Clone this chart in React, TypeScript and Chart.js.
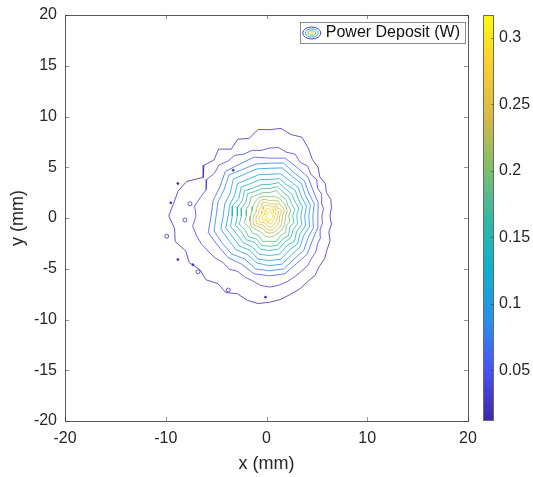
import { useEffect, useRef } from "react";
import { Chart, registerables } from "chart.js";

Chart.register(...registerables);

// ---- data ----
const X_TICKS = [-20, -10, 0, 10, 20];
const Y_TICKS = [-20, -15, -10, -5, 0, 5, 10, 15, 20];
const CB_TICKS = [0.05, 0.1, 0.15, 0.2, 0.25, 0.3];
const CB_MIN = 0.012;
const CB_MAX = 0.317;
const LEGEND_LABEL = "Power Deposit (W)";

// contour levels (W), outermost first
const LEVELS = [0.02, 0.039, 0.057, 0.076, 0.095, 0.113, 0.132, 0.151, 0.169, 0.188, 0.207, 0.225, 0.244, 0.263, 0.281, 0.3];

// contour centre (mm) and sampling angles (deg)
const CENTER_X = 0.3;
const CENTER_Y = 0.2;
const ANGLES_FINE = [0, 7.5, 15, 22.5, 30, 37.5, 45, 52.5, 60, 67.5, 75, 82.5, 90, 97.5, 105, 112.5, 120, 127.5, 135, 142.5, 150, 157.5, 165, 172.5, 180, 187.5, 195, 202.5, 210, 217.5, 225, 232.5, 240, 247.5, 255, 262.5, 270, 277.5, 285, 292.5, 300, 307.5, 315, 322.5, 330, 337.5, 345, 352.5];
const ANGLES_COARSE = [0, 15, 30, 45, 60, 75, 90, 105, 120, 135, 150, 165, 180, 195, 210, 225, 240, 255, 270, 285, 300, 315, 330, 345];

// radius (mm) of each contour at each angle
const C1 = [6.0, 6.2, 6.3, 6.1, 6.4, 6.3, 6.8, 7.0, 7.7, 8.4, 8.3, 8.7, 8.5, 8.6, 7.9, 8.2, 7.6, 8.3, 7.8, 8.2, 7.6, 8.9, 9.4, 9.6, 10.0, 9.5, 9.7, 9.0, 9.2, 8.7, 8.9, 8.4, 8.7, 8.3, 8.6, 8.7, 8.5, 8.3, 8.0, 7.8, 7.5, 7.4, 7.0, 6.9, 6.6, 6.5, 6.1, 6.2];
const C2 = [5.2, 5.4, 5.3, 5.6, 5.5, 5.9, 5.8, 6.2, 6.1, 6.6, 6.5, 6.8, 6.7, 6.5, 6.7, 6.6, 6.9, 6.8, 7.1, 6.9, 7.2, 6.8, 7.1, 7.5, 7.3, 7.7, 7.5, 7.3, 7.0, 6.8, 6.5, 6.6, 6.3, 6.5, 6.6, 6.9, 7.0, 6.9, 6.7, 6.5, 6.3, 6.2, 5.9, 5.8, 5.5, 5.5, 5.2, 5.3];
const C3 = [4.8, 5.0, 5.0, 5.4, 5.5, 5.9, 5.7, 6.0, 5.9, 6.2, 5.7, 5.8, 5.8, 6.3, 5.9, 5.8, 5.5, 5.9, 5.9, 5.9, 5.4, 5.3, 4.9, 4.9];
const C4 = [4.3, 4.6, 4.5, 4.9, 4.9, 5.4, 5.2, 5.3, 5.3, 5.7, 5.2, 5.3, 5.3, 5.7, 5.4, 5.3, 4.9, 5.4, 5.4, 5.4, 4.9, 4.8, 4.4, 4.5];
const C5 = [3.9, 4.2, 4.1, 4.5, 4.5, 4.9, 4.7, 4.8, 4.8, 5.1, 4.5, 4.6, 4.6, 5.0, 4.7, 4.7, 4.4, 4.8, 4.9, 4.9, 4.4, 4.3, 3.9, 4.1];
const C6 = [3.5, 3.8, 3.7, 4.0, 4.0, 4.3, 4.1, 4.2, 4.2, 4.5, 4.0, 4.1, 4.1, 4.5, 4.2, 4.2, 3.9, 4.4, 4.4, 4.4, 3.9, 3.9, 3.5, 3.7];
const C7 = [3.1, 3.4, 3.3, 3.6, 3.5, 3.8, 3.6, 3.7, 3.7, 4.0, 3.5, 3.8, 3.7, 4.0, 3.7, 3.7, 3.5, 3.9, 3.9, 3.9, 3.4, 3.5, 3.1, 3.3];
const C8 = [2.7, 3.0, 2.9, 3.1, 3.1, 3.4, 3.1, 3.2, 3.2, 3.5, 3.1, 3.3, 3.2, 3.5, 3.2, 3.3, 3.0, 3.4, 3.4, 3.4, 3.0, 3.0, 2.7, 2.9];
const C9 = [2.3, 2.6, 2.5, 2.7, 2.7, 3.0, 2.7, 2.8, 2.8, 3.1, 2.7, 2.9, 2.8, 3.1, 2.8, 2.9, 2.6, 3.0, 3.0, 3.0, 2.6, 2.7, 2.3, 2.5];
const C10 = [1.9, 2.2, 2.1, 2.3, 2.3, 2.6, 2.3, 2.4, 2.4, 2.6, 2.3, 2.4, 2.3, 2.6, 2.3, 2.4, 2.2, 2.6, 2.5, 2.6, 2.2, 2.3, 1.9, 2.1];
const C11 = [1.6, 1.8, 1.9, 1.9, 2.0, 2.0, 1.9, 2.0, 2.1, 2.0, 1.9, 1.8, 1.9, 2.0, 2.1, 1.9, 1.8, 2.0, 2.1, 2.0, 1.9, 1.8, 1.7, 1.6];
const C12 = [1.3, 1.5, 1.6, 1.5, 1.7, 1.6, 1.5, 1.7, 1.8, 1.6, 1.5, 1.4, 1.6, 1.7, 1.8, 1.5, 1.4, 1.6, 1.7, 1.7, 1.5, 1.5, 1.4, 1.3];
const C13 = [1.0, 1.2, 1.3, 1.1, 1.4, 1.2, 1.2, 1.4, 1.5, 1.2, 1.2, 1.1, 1.3, 1.4, 1.5, 1.2, 1.1, 1.3, 1.4, 1.4, 1.2, 1.2, 1.1, 1.0];
const C14 = [0.8, 0.9, 1.0, 0.8, 1.1, 0.9, 1.0, 1.1, 1.1, 0.9, 0.9, 0.8, 1.0, 1.1, 1.2, 0.9, 0.8, 1.0, 1.1, 1.1, 0.9, 0.9, 0.8, 0.8];
const C15 = [0.5, 0.6, 0.7, 0.5, 0.8, 0.6, 0.7, 0.8, 0.7, 0.6, 0.6, 0.5, 0.7, 0.8, 0.8, 0.6, 0.5, 0.7, 0.7, 0.8, 0.6, 0.6, 0.5, 0.5];
const C16 = [0.3, 0.35, 0.4, 0.3, 0.45, 0.35, 0.4, 0.45, 0.4, 0.35, 0.3, 0.3, 0.35, 0.4, 0.45, 0.35, 0.3, 0.35, 0.4, 0.45, 0.35, 0.3, 0.3, 0.3];
const CONTOUR_RADII = [C1, C2, C3, C4, C5, C6, C7, C8, C9, C10, C11, C12, C13, C14, C15, C16];

// small isolated loops and specks of the lowest level (mm)
const LOOP_X = [-8.1, -7.6, -9.9, -6.8, -3.8];
const LOOP_Y = [-0.2, 1.4, -1.8, -5.3, -7.1];
const DOT_X = [-8.8, -7.3, -8.8, -0.1, -3.3, -9.5];
const DOT_Y = [-4.1, -4.6, 3.4, -7.8, 4.7, 1.5];

// parula colormap stops [t, r, g, b]
const PARULA = [
  [0, 62, 38, 168],
  [0.125, 72, 82, 244],
  [0.25, 40, 145, 235],
  [0.375, 16, 175, 205],
  [0.5, 50, 186, 160],
  [0.625, 130, 190, 105],
  [0.75, 215, 186, 70],
  [0.875, 252, 205, 50],
  [1, 249, 251, 14],
];

const FONT = "'Liberation Sans', Arial, Helvetica, sans-serif";
const TEXT = "#262626";

function parula(t: number): string {
  const u = Math.max(0, Math.min(1, t));
  for (let i = 0; i < PARULA.length - 1; i++) {
    const a = PARULA[i];
    const b = PARULA[i + 1];
    if (u <= b[0]) {
      const f = (u - a[0]) / (b[0] - a[0]);
      const r = Math.round(a[1] + (b[1] - a[1]) * f);
      const g = Math.round(a[2] + (b[2] - a[2]) * f);
      const bl = Math.round(a[3] + (b[3] - a[3]) * f);
      return `rgb(${r},${g},${bl})`;
    }
  }
  const l = PARULA[PARULA.length - 1];
  return `rgb(${l[1]},${l[2]},${l[3]})`;
}
const levelColor = (v: number) => parula((v - CB_MIN) / (CB_MAX - CB_MIN));

const framePlugin = {
  id: "matlabFrame",
  afterDatasetsDraw(chart: any) {
    const { ctx, chartArea: ca, scales } = chart;
    const xs = scales.x;
    const ys = scales.y;
    const cs = scales.c;
    ctx.save();

    // box
    ctx.strokeStyle = "#5a5a5a";
    ctx.lineWidth = 1;
    ctx.strokeRect(Math.round(ca.left) + 0.5, Math.round(ca.top) + 0.5, Math.round(ca.right - ca.left), Math.round(ca.bottom - ca.top));

    // inward ticks
    ctx.strokeStyle = "rgba(60,60,60,0.55)";
    ctx.beginPath();
    const tl = 4;
    for (const v of X_TICKS) {
      const px = Math.round(xs.getPixelForValue(v)) + 0.5;
      ctx.moveTo(px, ca.bottom);
      ctx.lineTo(px, ca.bottom - tl);
      ctx.moveTo(px, ca.top);
      ctx.lineTo(px, ca.top + tl);
    }
    for (const v of Y_TICKS) {
      const py = Math.round(ys.getPixelForValue(v)) + 0.5;
      ctx.moveTo(ca.left, py);
      ctx.lineTo(ca.left + tl, py);
      ctx.moveTo(ca.right, py);
      ctx.lineTo(ca.right - tl, py);
    }
    ctx.stroke();

    // colorbar
    const bx = cs.left + 15;
    const bw = 11;
    const top = cs.getPixelForValue(CB_MAX);
    const bot = cs.getPixelForValue(CB_MIN);
    const grad = ctx.createLinearGradient(0, bot, 0, top);
    for (const s of PARULA) grad.addColorStop(s[0], `rgb(${s[1]},${s[2]},${s[3]})`);
    ctx.fillStyle = grad;
    ctx.fillRect(bx, top, bw, bot - top);
    ctx.strokeStyle = "#6a6a6a";
    ctx.lineWidth = 1;
    ctx.strokeRect(bx + 0.5, Math.round(top) + 0.5, bw - 1, Math.round(bot - top) - 1);
    ctx.strokeStyle = "rgba(40,40,40,0.45)";
    ctx.beginPath();
    for (const v of CB_TICKS) {
      const py = Math.round(cs.getPixelForValue(v)) + 0.5;
      ctx.moveTo(bx + bw, py);
      ctx.lineTo(bx + bw - 3, py);
    }
    ctx.stroke();

    // legend (inside, top right)
    ctx.font = `16px ${FONT}`;
    const tw = ctx.measureText(LEGEND_LABEL).width;
    const lh = 21;
    const lRight = ca.right - 3;
    const lLeft = lRight - tw - 31;
    const lTop = ca.top + 7;
    ctx.fillStyle = "#ffffff";
    ctx.fillRect(lLeft, lTop, lRight - lLeft, lh);
    ctx.strokeStyle = "#8a8a8a";
    ctx.strokeRect(Math.round(lLeft) + 0.5, Math.round(lTop) + 0.5, Math.round(lRight - lLeft), lh);
    const icx = lLeft + 12;
    const icy = lTop + lh / 2 + 0.5;
    const rings = [
      [9, 6, LEVELS[0]],
      [6.5, 4.2, LEVELS[5]],
      [4, 2.5, LEVELS[9]],
      [1.8, 1.1, LEVELS[14]],
    ];
    ctx.lineWidth = 0.9;
    for (const [rx, ry, lv] of rings) {
      ctx.strokeStyle = levelColor(lv as number);
      ctx.beginPath();
      ctx.ellipse(icx, icy, rx as number, ry as number, 0, 0, Math.PI * 2);
      ctx.stroke();
    }
    ctx.fillStyle = "#111111";
    ctx.textBaseline = "middle";
    ctx.textAlign = "left";
    ctx.fillText(LEGEND_LABEL, lLeft + 26, icy);

    ctx.restore();
  },
};

export default function App() {
  const ref = useRef<HTMLCanvasElement | null>(null);

  useEffect(() => {
    if (!ref.current) return;
    const rad = Math.PI / 180;
    const contourSets = CONTOUR_RADII.map((radii, i) => {
      const angles = radii.length === ANGLES_FINE.length ? ANGLES_FINE : ANGLES_COARSE;
      const pts = angles.map((a, j) => ({
        x: CENTER_X + radii[j] * Math.cos(a * rad),
        y: CENTER_Y + radii[j] * Math.sin(a * rad),
      }));
      pts.push(pts[0]);
      return {
        label: `level ${LEVELS[i]}`,
        data: pts,
        showLine: true,
        borderColor: levelColor(LEVELS[i]),
        borderWidth: 0.8,
        pointRadius: 0,
        tension: 0,
        fill: false,
      };
    });
    const loopSet = {
      label: "loops",
      data: LOOP_X.map((x, i) => ({ x, y: LOOP_Y[i] })),
      showLine: false,
      pointRadius: 2,
      pointBorderWidth: 0.8,
      pointBorderColor: levelColor(LEVELS[0]),
      pointBackgroundColor: "rgba(0,0,0,0)",
    };
    const dotSet = {
      label: "dots",
      data: DOT_X.map((x, i) => ({ x, y: DOT_Y[i] })),
      showLine: false,
      pointRadius: 1,
      pointBorderWidth: 0.8,
      pointBorderColor: levelColor(LEVELS[0]),
      pointBackgroundColor: levelColor(LEVELS[0]),
    };

    const tickFont = { family: FONT, size: 16 };
    const titleFont = { family: FONT, size: 18 };
    const noVPad = (s: any) => {
      s.paddingTop = 0;
      s.paddingBottom = 0;
    };

    const chart = new Chart(ref.current, {
      type: "scatter",
      data: { datasets: [...contourSets, loopSet, dotSet] as any },
      options: {
        animation: false,
        responsive: false,
        devicePixelRatio: 1,
        events: [],
        layout: { padding: { top: 15, left: 0, right: 0, bottom: 0 } },
        plugins: { legend: { display: false }, tooltip: { enabled: false } },
        scales: {
          x: {
            type: "linear",
            position: "bottom",
            min: -20,
            max: 20,
            afterBuildTicks: (s: any) => {
              s.ticks = X_TICKS.map((v) => ({ value: v }));
            },
            afterFit: (s: any) => {
              s.height = 56;
              s.paddingLeft = 0;
              s.paddingRight = 0;
            },
            grid: { display: false, drawTicks: false },
            border: { display: false },
            ticks: { padding: 8, font: tickFont, color: TEXT, maxRotation: 0, autoSkip: false, callback: (v: any) => String(v) },
            title: { display: true, text: "x (mm)", font: titleFont, color: TEXT, padding: { top: 0, bottom: 2 } },
          },
          y: {
            type: "linear",
            position: "left",
            min: -20,
            max: 20,
            afterBuildTicks: (s: any) => {
              s.ticks = Y_TICKS.map((v) => ({ value: v }));
            },
            afterFit: (s: any) => {
              s.width = 65;
              noVPad(s);
            },
            grid: { display: false, drawTicks: false },
            border: { display: false },
            ticks: { padding: 8, font: tickFont, color: TEXT, autoSkip: false, callback: (v: any) => String(v) },
            title: { display: true, text: "y (mm)", font: titleFont, color: TEXT, padding: { top: 7, bottom: 0 } },
          },
          c: {
            type: "linear",
            position: "right",
            min: CB_MIN,
            max: CB_MAX,
            afterBuildTicks: (s: any) => {
              s.ticks = CB_TICKS.map((v) => ({ value: v }));
            },
            afterFit: (s: any) => {
              s.width = 65;
              noVPad(s);
            },
            grid: { display: false, drawTicks: false },
            border: { display: false },
            ticks: { padding: 31, font: tickFont, color: TEXT, autoSkip: false, callback: (v: any) => String(v) },
          },
        },
      } as any,
      plugins: [framePlugin],
    });
    return () => chart.destroy();
  }, []);

  return (
    <div style={{ position: "absolute", left: 0, top: 0, width: 533, height: 477, background: "#ffffff" }}>
      <canvas ref={ref} width={533} height={477} style={{ width: 533, height: 477, display: "block" }} />
    </div>
  );
}
